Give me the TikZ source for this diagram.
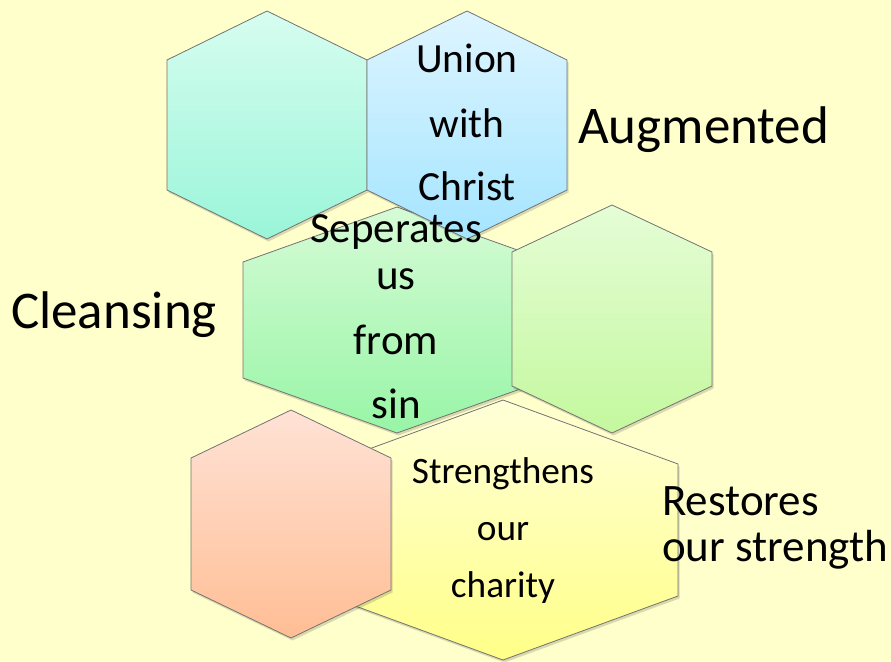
\documentclass[tikz,border=0pt]{standalone}
\usepackage{fontspec}
\setmainfont{Carlito}
\usetikzlibrary{shadows}

\definecolor{paper}{RGB}{255,255,204}
\definecolor{tealtop}{RGB}{214,253,240}
\definecolor{tealbot}{RGB}{154,245,216}
\definecolor{bluetop}{RGB}{222,245,255}
\definecolor{bluebot}{RGB}{165,229,255}
\definecolor{greentop}{RGB}{214,251,214}
\definecolor{greenbot}{RGB}{152,245,166}
\definecolor{limetop}{RGB}{229,253,214}
\definecolor{limebot}{RGB}{196,248,158}
\definecolor{peachtop}{RGB}{255,226,214}
\definecolor{peachbot}{RGB}{255,190,148}
\definecolor{yellowtop}{RGB}{255,255,216}
\definecolor{yellowbot}{RGB}{255,255,136}

% hexagon: centre x, centre y, half width, half height, half side
\newcommand{\hexpath}[5]{({#1},{#2-#4}) -- ({#1+#3},{#2-#5}) -- ({#1+#3},{#2+#5})
  -- ({#1},{#2+#4}) -- ({#1-#3},{#2+#5}) -- ({#1-#3},{#2-#5}) -- cycle}

\tikzset{
  hexa/.style={draw=black!55, line width=0.8pt, line join=miter,
    drop shadow={shadow xshift=1.5pt, shadow yshift=-2.5pt, opacity=0.15, fill=black}},
  sidelabel/.style={inner sep=0pt, font=\fontsize{53}{56}\selectfont},
  restlabel/.style={inner sep=0pt, font=\fontsize{45}{47}\selectfont},
  biglabel/.style={inner sep=0pt, anchor=base, font=\fontsize{41.5}{45}\selectfont},
  smalllabel/.style={inner sep=0pt, anchor=base, font=\fontsize{37.3}{40}\selectfont},
}

\begin{document}
\begin{tikzpicture}[x=1pt, y=-1pt]
\fill[paper] (0,0) rectangle (891,661);
\useasboundingbox (0,0) rectangle (891,661);

% hexagons, back to front
\draw[hexa, top color=greentop, bottom color=greenbot] \hexpath{397}{320}{154}{113}{58};
\draw[hexa, top color=limetop, bottom color=limebot] \hexpath{612}{319}{100}{114}{67};
\draw[hexa, top color=yellowtop, bottom color=yellowbot] \hexpath{503}{530}{175}{130}{66};
\draw[hexa, top color=peachtop, bottom color=peachbot] \hexpath{291}{524}{100}{114}{66};
\draw[hexa, top color=tealtop, bottom color=tealbot] \hexpath{267}{125}{100}{114}{65};
\draw[hexa, top color=bluetop, bottom color=bluebot] \hexpath{467}{125}{100}{114}{65};

% words inside the hexagons
\foreach \word/\yy [count=\i] in {Union/72, with/137, Christ/200}
  \node[biglabel] (union-\i) at (467,\yy) {\word};
\foreach \word/\yy [count=\i] in {Seperates/242, us/289, from/354, sin/418}
  \node[biglabel, font=\fontsize{43}{45}\selectfont] (sep-\i) at (396,\yy) {\word};
\foreach \word/\yy [count=\i] in {Strengthens/483, our/540, charity/597}
  \node[smalllabel] (str-\i) at (503,\yy) {\word};

% words beside them
\node[sidelabel, anchor=base west] (augmented) at (578,143) {Augmented};
\node[sidelabel, anchor=base west] (cleansing) at (11,328) {Cleansing};
\node[restlabel, anchor=base west] (restores) at (662,515) {Restores};
\node[restlabel, anchor=base west] (strength) at (662,561) {our strength};

\end{tikzpicture}
\end{document}
